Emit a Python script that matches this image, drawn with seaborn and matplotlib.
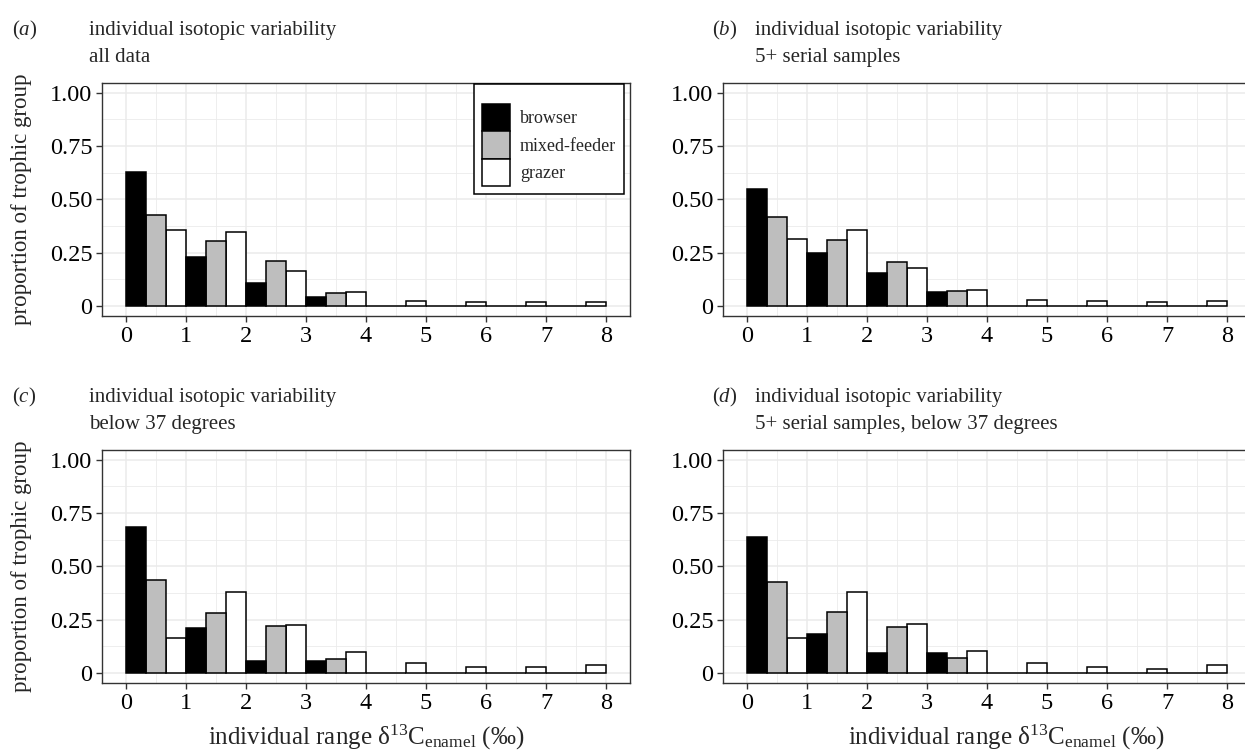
import matplotlib
matplotlib.use("Agg")
import matplotlib.pyplot as plt
from matplotlib.patches import Patch
from matplotlib.ticker import MultipleLocator, FixedLocator, FixedFormatter
import pandas as pd
import seaborn as sns

# bins of individual range (permil), width 1
BIN_START = [0, 1, 2, 3, 4, 5, 6, 7]
GROUPS = ["browser", "mixed-feeder", "grazer"]
GROUP_COLORS = ["#000000", "#BEBEBE", "#FFFFFF"]

# proportion of trophic group per bin
A_BROWSER = [0.628, 0.231, 0.109, 0.044, 0, 0, 0, 0]
A_MIXED = [0.425, 0.305, 0.213, 0.063, 0, 0, 0, 0]
A_GRAZER = [0.356, 0.347, 0.163, 0.067, 0.025, 0.020, 0.020, 0.020]

B_BROWSER = [0.550, 0.247, 0.156, 0.064, 0, 0, 0, 0]
B_MIXED = [0.416, 0.311, 0.208, 0.072, 0, 0, 0, 0]
B_GRAZER = [0.313, 0.358, 0.180, 0.077, 0.027, 0.022, 0.017, 0.022]

C_BROWSER = [0.684, 0.213, 0.056, 0.056, 0, 0, 0, 0]
C_MIXED = [0.436, 0.281, 0.219, 0.064, 0, 0, 0, 0]
C_GRAZER = [0.163, 0.378, 0.225, 0.100, 0.045, 0.027, 0.027, 0.036]

D_BROWSER = [0.638, 0.184, 0.094, 0.094, 0, 0, 0, 0]
D_MIXED = [0.428, 0.286, 0.214, 0.072, 0, 0, 0, 0]
D_GRAZER = [0.164, 0.381, 0.228, 0.102, 0.045, 0.028, 0.019, 0.036]

PANEL_LABELS = ["a", "b", "c", "d"]
TITLE = "individual isotopic variability"
SUBTITLES = ["all data", "5+ serial samples", "below 37 degrees",
             "5+ serial samples, below 37 degrees"]
Y_TICKS = [0, 0.25, 0.5, 0.75, 1.0]
Y_TICK_LABELS = ["0", "0.25", "0.50", "0.75", "1.00"]
X_TICKS = [0, 1, 2, 3, 4, 5, 6, 7, 8]

sns.set_theme(style="whitegrid")
plt.rcParams["font.family"] = ["Liberation Serif", "DejaVu Serif"]
plt.rcParams["mathtext.fontset"] = "custom"
plt.rcParams["mathtext.rm"] = "Liberation Serif"
plt.rcParams["mathtext.it"] = "Liberation Serif:italic"

TICK_SIZE = 17.5
TITLE_SIZE = 15
YLAB_SIZE = 16.5
XLAB_SIZE = 18
LEG_SIZE = 13


def panel_frame(browser, mixed, grazer):
    rows = []
    for vals, grp in zip([browser, mixed, grazer], GROUPS):
        for b, v in zip(BIN_START, vals):
            rows.append({"mid": b + 0.5, "prop": v, "group": grp})
    return pd.DataFrame(rows)


panels = [
    panel_frame(A_BROWSER, A_MIXED, A_GRAZER),
    panel_frame(B_BROWSER, B_MIXED, B_GRAZER),
    panel_frame(C_BROWSER, C_MIXED, C_GRAZER),
    panel_frame(D_BROWSER, D_MIXED, D_GRAZER),
]

W, H = 1245, 755
fig = plt.figure(figsize=(W / 100, H / 100), dpi=100)

# axes boxes in pixels: left, top, right, bottom
boxes = [(102, 83, 630, 316), (723, 83, 1251, 316),
         (102, 450, 630, 683), (723, 450, 1251, 683)]
title_x = [(12, 89), (712, 755), (12, 89), (712, 755)]

edges = BIN_START + [BIN_START[-1] + 1]
for i, (df, box) in enumerate(zip(panels, boxes)):
    l, t, r, b = box
    ax = fig.add_axes([l / W, 1 - b / H, (r - l) / W, (b - t) / H])
    sns.histplot(data=df, x="mid", weights="prop", hue="group", hue_order=GROUPS,
                 palette=GROUP_COLORS, multiple="dodge", bins=edges, shrink=1,
                 alpha=1, edgecolor="black", linewidth=1.1, legend=False, ax=ax)
    ax.set_xlim(-0.4, 8.4)
    ax.set_ylim(-0.047, 1.045)
    ax.xaxis.set_major_locator(FixedLocator(X_TICKS))
    ax.xaxis.set_minor_locator(MultipleLocator(0.5))
    ax.yaxis.set_major_locator(FixedLocator(Y_TICKS))
    ax.yaxis.set_major_formatter(FixedFormatter(Y_TICK_LABELS))
    ax.yaxis.set_minor_locator(MultipleLocator(0.125))
    ax.grid(which="major", color="#EBEBEB", linewidth=1.1)
    ax.grid(which="minor", color="#EBEBEB", linewidth=0.6)
    ax.set_axisbelow(True)
    ax.tick_params(which="major", direction="out", length=4, width=1, color="#333333",
                   labelsize=TICK_SIZE, labelcolor="black", pad=3,
                   bottom=True, left=True)
    ax.tick_params(which="minor", length=0)
    for sp in ax.spines.values():
        sp.set_color("#333333")
        sp.set_linewidth(1)
    ax.set_xlabel("")
    ax.set_ylabel("")

    # panel tag and two-line title
    px, tx = title_x[i]
    y1 = t - 48
    y2 = t - 21
    fig.text(px / W, 1 - y1 / H, "($" + PANEL_LABELS[i] + "$)",
             fontsize=TITLE_SIZE, va="baseline")
    fig.text(tx / W, 1 - y1 / H, TITLE, fontsize=TITLE_SIZE, va="baseline")
    fig.text(tx / W, 1 - y2 / H, SUBTITLES[i], fontsize=TITLE_SIZE, va="baseline")

    if i in (0, 2):
        fig.text(22 / W, 1 - ((t + b) / 2) / H, "proportion of trophic group",
                 rotation=90, ha="center", va="center", fontsize=YLAB_SIZE)
    if i in (2, 3):
        cx = (l + r) / 2 if i == 2 else 1006
        fig.text(cx / W, 1 - 745 / H,
                 r"individual range δ$^{13}$C$_{\mathrm{enamel}}$ (‰)",
                 ha="center", va="baseline", fontsize=XLAB_SIZE)

    if i == 0:
        handles = [Patch(facecolor=c, edgecolor="black", linewidth=1.1)
                   for c in GROUP_COLORS]
        leg = ax.legend(handles, GROUPS, loc="upper right",
                        bbox_to_anchor=(0.989, 0.996), borderaxespad=0,
                        frameon=True, fontsize=LEG_SIZE, title=" ",
                        title_fontsize=9, handlelength=1.55, handleheight=1.95,
                        handletextpad=0.55, labelspacing=0.0, borderpad=0.45,
                        fancybox=False)
        leg.get_frame().set_edgecolor("black")
        leg.get_frame().set_linewidth(1.1)
        leg.get_frame().set_alpha(1)

fig.savefig("out.png", dpi=100)
